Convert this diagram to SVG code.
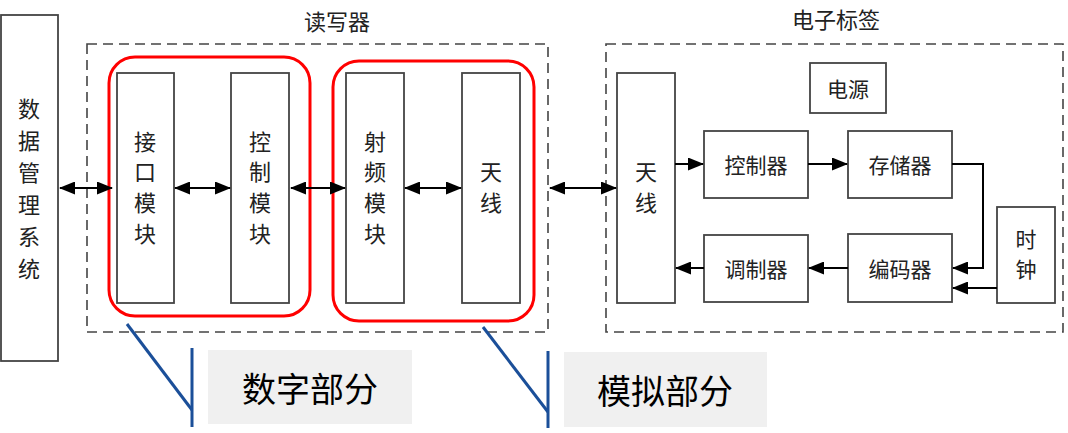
<svg xmlns="http://www.w3.org/2000/svg" width="1068" height="433" viewBox="0 0 1068 433">
<style>
text{font-family:"Noto Sans CJK SC","Noto Sans",sans-serif;fill:#222;text-anchor:middle;dominant-baseline:central}
.b{font-size:22px}
.t{font-size:21px}
.big{font-size:34px;fill:#000}
.box{fill:#fff;stroke:#444;stroke-width:1.8}
.dash{fill:none;stroke:#444;stroke-width:1.6;stroke-dasharray:10 6}
.red{fill:none;stroke:#ff0000;stroke-width:3}
.c{fill:none;stroke:#000;stroke-width:2}
.blue{fill:none;stroke:#1b4f99;stroke-width:3}
.gray{fill:#f0f0f0}
</style>
<defs>
<marker id="ah" markerUnits="userSpaceOnUse" markerWidth="16" markerHeight="13" refX="15" refY="6.5" orient="auto-start-reverse">
<path d="M0,0 L16,6.5 L0,13 z" fill="#000"/>
</marker>
</defs>
<g id="reader-frame"><rect class="dash" x="87" y="44" width="461" height="288"/><text class="b" x="337" y="20">读写器</text></g>
<g id="tag-frame"><rect class="dash" x="606" y="44" width="457" height="288"/><text class="b" x="836" y="18">电子标签</text></g>
<g id="dms"><rect class="box" x="1" y="15" width="57" height="346"/>
<text class="b" x="29"><tspan x="29" y="107">数</tspan><tspan x="29" y="139">据</tspan><tspan x="29" y="171">管</tspan><tspan x="29" y="203">理</tspan><tspan x="29" y="235">系</tspan><tspan x="29" y="267">统</tspan></text></g>
<g id="iface"><rect class="box" x="117" y="73" width="57" height="230"/>
<text class="b"><tspan x="145" y="140">接</tspan><tspan x="145" y="170">口</tspan><tspan x="145" y="201">模</tspan><tspan x="145" y="232">块</tspan></text></g>
<g id="ctrl"><rect class="box" x="231" y="73" width="58" height="230"/>
<text class="b"><tspan x="260" y="140">控</tspan><tspan x="260" y="170">制</tspan><tspan x="260" y="201">模</tspan><tspan x="260" y="232">块</tspan></text></g>
<g id="rf"><rect class="box" x="346" y="73" width="58" height="230"/>
<text class="b"><tspan x="375" y="140">射</tspan><tspan x="375" y="170">频</tspan><tspan x="375" y="201">模</tspan><tspan x="375" y="232">块</tspan></text></g>
<g id="ant-r"><rect class="box" x="462" y="73" width="58" height="230"/>
<text class="b"><tspan x="491" y="170">天</tspan><tspan x="491" y="201">线</tspan></text></g>
<g id="digital"><rect class="red" x="109" y="57" width="201" height="259" rx="26"/></g>
<g id="analog"><rect class="red" x="333" y="61" width="201" height="260" rx="26"/></g>
<g id="ant-t"><rect class="box" x="617" y="73" width="58" height="230"/>
<text class="b"><tspan x="646" y="170">天</tspan><tspan x="646" y="201">线</tspan></text></g>
<g id="power"><rect class="box" x="810" y="63" width="76" height="50"/><text class="t" x="848" y="88">电源</text></g>
<g id="controller"><rect class="box" x="704" y="131" width="104" height="67"/><text class="t" x="756" y="164">控制器</text></g>
<g id="storage"><rect class="box" x="848" y="131" width="104" height="67"/><text class="t" x="900" y="164">存储器</text></g>
<g id="modulator"><rect class="box" x="704" y="235" width="104" height="67"/><text class="t" x="756" y="268">调制器</text></g>
<g id="encoder"><rect class="box" x="848" y="234" width="104" height="68"/><text class="t" x="900" y="268">编码器</text></g>
<g id="clock"><rect class="box" x="997" y="207" width="58" height="96"/>
<text class="t"><tspan x="1026" y="238">时</tspan><tspan x="1026" y="268">钟</tspan></text></g>
<g id="connectors">
<line class="c" x1="60" y1="188" x2="112" y2="188" marker-start="url(#ah)" marker-end="url(#ah)"/>
<line class="c" x1="175" y1="188" x2="230" y2="188" marker-start="url(#ah)" marker-end="url(#ah)"/>
<line class="c" x1="291" y1="188" x2="345" y2="188" marker-start="url(#ah)" marker-end="url(#ah)"/>
<line class="c" x1="405" y1="188" x2="461" y2="188" marker-start="url(#ah)" marker-end="url(#ah)"/>
<line class="c" x1="550" y1="188" x2="616" y2="188" marker-start="url(#ah)" marker-end="url(#ah)"/>
<line class="c" x1="675" y1="164" x2="703" y2="164" marker-end="url(#ah)"/>
<line class="c" x1="808" y1="164" x2="847" y2="164" marker-end="url(#ah)"/>
<polyline class="c" points="952,164 983,164 983,268 953,268" marker-end="url(#ah)"/>
<line class="c" x1="997" y1="288" x2="953" y2="288" marker-end="url(#ah)"/>
<line class="c" x1="848" y1="268" x2="809" y2="268" marker-end="url(#ah)"/>
<line class="c" x1="704" y1="268" x2="676" y2="268" marker-end="url(#ah)"/>
</g>
<g id="label-digital">
<polyline class="blue" points="127,324 192,410"/>
<line class="blue" x1="192" y1="348" x2="192" y2="427"/>
<rect class="gray" x="208" y="350" width="204" height="74"/>
<text class="big" x="310" y="387">数字部分</text>
</g>
<g id="label-analog">
<polyline class="blue" points="483,327 548,412"/>
<line class="blue" x1="548" y1="351" x2="548" y2="428"/>
<rect class="gray" x="564" y="352" width="203" height="75"/>
<text class="big" x="665" y="389">模拟部分</text>
</g>
</svg>
